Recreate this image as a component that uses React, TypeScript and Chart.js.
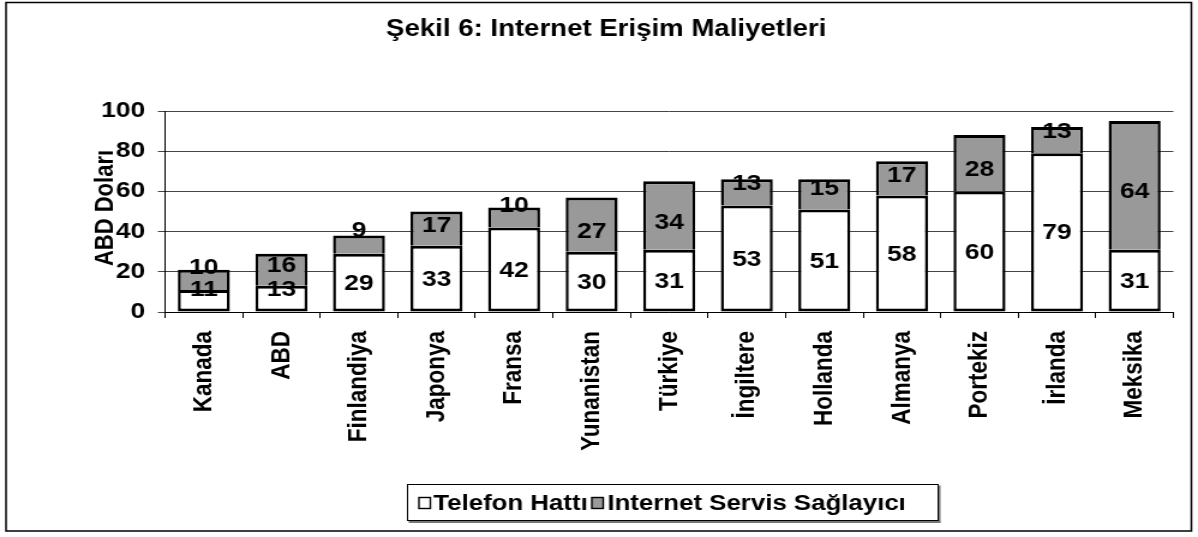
import React, { useEffect, useRef } from 'react';
import { Chart, registerables } from 'chart.js';

Chart.register(...registerables);

const categories = ['Kanada', 'ABD', 'Finlandiya', 'Japonya', 'Fransa', 'Yunanistan', 'Türkiye', 'İngiltere', 'Hollanda', 'Almanya', 'Portekiz', 'İrlanda', 'Meksika'];
const telefonHatti = [11, 13, 29, 33, 42, 30, 31, 53, 51, 58, 60, 79, 31];
const internetServis = [10, 16, 9, 17, 10, 27, 34, 13, 15, 17, 28, 13, 64];
const yTicks = [0, 20, 40, 60, 80, 100];
const seriesNames = ['Telefon Hattı', 'Internet Servis Sağlayıcı'];
const chartTitle = 'Şekil 6: Internet Erişim Maliyetleri';
const yAxisTitle = 'ABD Doları';

const FAMILY = '"Liberation Sans", Arial, sans-serif';
const SX = 1.2;
const W = Math.round(1198 / SX);
const H = 537;
const GRAY = '#999999';

const decor = {
  id: 'decor',
  beforeDraw(chart: any) {
    const ctx = chart.ctx;
    ctx.save();
    ctx.fillStyle = '#fff';
    ctx.fillRect(0, 0, chart.width, chart.height);
    ctx.restore();
  },
  afterDraw(chart: any) {
    const ctx = chart.ctx;
    ctx.save();
    // outer frame
    ctx.strokeStyle = '#000';
    ctx.lineWidth = 1.5;
    ctx.strokeRect(5, 2.5, 987.5, 528.5);

    // title
    ctx.fillStyle = '#000';
    ctx.font = `bold 23px ${FAMILY}`;
    ctx.textAlign = 'center';
    ctx.textBaseline = 'middle';
    ctx.fillText(chartTitle, 505, 30);

    // y title
    ctx.save();
    ctx.translate(88, 208);
    ctx.rotate(-Math.PI / 2);
    ctx.font = `bold 22px ${FAMILY}`;
    ctx.fillText(yAxisTitle, 0, 0);
    ctx.restore();

    // data labels (small segments push the label upward, as in the source)
    ctx.font = `bold 22px ${FAMILY}`;
    chart.data.datasets.forEach((ds: any, di: number) => {
      const meta = chart.getDatasetMeta(di);
      meta.data.forEach((el: any, i: number) => {
        const h = Math.abs(el.base - el.y);
        let off = 0;
        if (h < 40) off = -(40 - h) * 0.65;
        else if (di === 1) off = 6;
        const y = (el.y + el.base) / 2 + off;
        ctx.fillText(String(ds.data[i]), el.x, y + 1);
      });
    });

    // legend
    const boxL = 339, boxT = 484, boxR = 782, boxB = 521;
    ctx.fillStyle = '#777';
    ctx.fillRect(boxL + 1.5, boxB, boxR - boxL, 2);
    ctx.fillRect(boxR, boxT + 1.5, 1.5, boxB - boxT);
    ctx.fillStyle = '#fff';
    ctx.fillRect(boxL, boxT, boxR - boxL, boxB - boxT);
    ctx.strokeStyle = '#000';
    ctx.lineWidth = 1;
    ctx.strokeRect(boxL + 0.5, boxT + 0.5, boxR - boxL - 1, boxB - boxT - 1);
    ctx.font = `bold 21.5px ${FAMILY}`;
    ctx.textAlign = 'left';
    ctx.textBaseline = 'middle';
    const cy = 503;
    const sqX = [349, 493];
    const txX = [361, 506];
    const fills = ['#fff', GRAY];
    seriesNames.forEach((name, i) => {
      ctx.fillStyle = fills[i];
      ctx.fillRect(sqX[i], cy - 5.5, 9.5, 11);
      ctx.strokeStyle = '#000';
      ctx.lineWidth = 1.4;
      ctx.strokeRect(sqX[i], cy - 5.5, 9.5, 11);
      ctx.fillStyle = '#000';
      ctx.fillText(name, txX[i], cy + 1);
    });
    ctx.restore();
  },
};

export default function App() {
  const ref = useRef<HTMLCanvasElement | null>(null);
  useEffect(() => {
    if (!ref.current) return;
    const chart = new Chart(ref.current, {
      type: 'bar',
      data: {
        labels: categories,
        datasets: [
          {
            label: seriesNames[0],
            data: telefonHatti,
            backgroundColor: '#ffffff',
            borderColor: '#000',
            borderWidth: { top: 3, left: 2.5, right: 2.5, bottom: 3 },
            borderSkipped: false,
            categoryPercentage: 1,
            barPercentage: 0.67,
          },
          {
            label: seriesNames[1],
            data: internetServis,
            backgroundColor: GRAY,
            borderColor: '#000',
            borderWidth: { top: 3, left: 2.5, right: 2.5, bottom: 0 },
            borderSkipped: 'start',
            categoryPercentage: 1,
            barPercentage: 0.67,
          },
        ],
      } as any,
      options: {
        responsive: false,
        animation: false,
        devicePixelRatio: 1,
        layout: { padding: { left: 0, right: 20.5, top: 111, bottom: 75 } },
        plugins: {
          legend: { display: false },
          title: { display: false },
          tooltip: { enabled: false },
        },
        scales: {
          x: {
            stacked: true,
            grid: { display: true, drawOnChartArea: false, drawTicks: true, tickLength: 6, color: '#000', offset: true },
            border: { display: true, color: '#000' },
            ticks: {
              minRotation: 90,
              maxRotation: 90,
              autoSkip: false,
              padding: 13,
              color: '#000',
              font: { family: FAMILY, size: 22.5, weight: 'bold' },
            },
            afterFit: (s: any) => { s.height = 150; },
          },
          y: {
            stacked: true,
            min: 0,
            max: 100,
            afterBuildTicks: (s: any) => { s.ticks = yTicks.map((v) => ({ value: v })); },
            ticks: {
              padding: 10.5,
              color: '#000',
              font: { family: FAMILY, size: 22, weight: 'bold' },
            },
            grid: { color: '#444', tickLength: 6, lineWidth: 1 },
            border: { display: true, color: '#000', width: 1 },
            afterFit: (s: any) => { s.width = 137.5; },
          },
        },
      } as any,
      plugins: [decor],
    });
    return () => chart.destroy();
  }, []);

  return (
    <div style={{ position: 'absolute', left: 0, top: 0, width: W, height: H, transform: `scale(${1198 / W}, 1)`, transformOrigin: '0 0' }}>
      <canvas ref={ref} width={W} height={H} style={{ display: 'block' }} />
    </div>
  );
}
